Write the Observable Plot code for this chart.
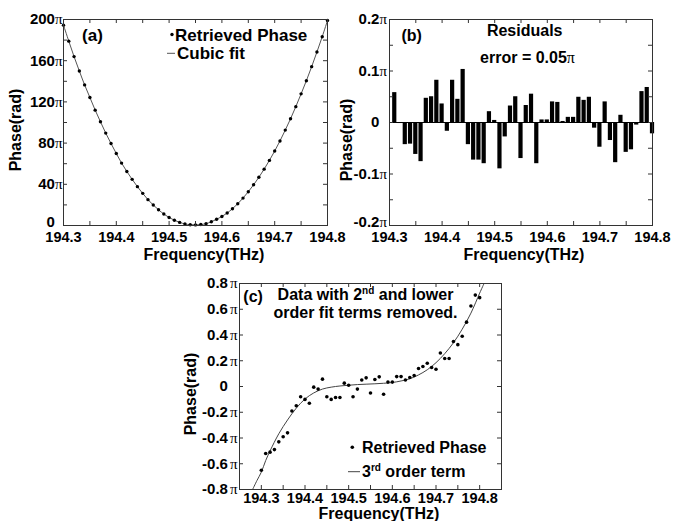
<!DOCTYPE html>
<html><head><meta charset="utf-8">
<script src="https://cdn.jsdelivr.net/npm/d3@7"></script>
<script src="https://cdn.jsdelivr.net/npm/@observablehq/plot@0.6"></script>
<style>
body{margin:0;background:#fff;}
#wrap{position:relative;width:685px;height:521px;overflow:hidden;background:#fff;}
#wrap svg{position:absolute;}
</style></head><body><div id="wrap"></div>
<script>
// ---------- data ----------
const freqA = [194.30,194.31,194.32,194.33,194.34,194.35,194.36,194.37,194.38,194.39,194.40,194.41,194.42,194.43,194.44,194.45,194.46,194.47,194.48,194.49,194.50,194.51,194.52,194.53,194.54,194.55,194.56,194.57,194.58,194.59,194.60,194.61,194.62,194.63,194.64,194.65,194.66,194.67,194.68,194.69,194.70,194.71,194.72,194.73,194.74,194.75,194.76,194.77,194.78,194.79,194.80];
const phaseA = [194.5,179,164,150,136.5,124.3,112,100.7,89.7,79.6,69.9,60.6,52.4,44.8,37.7,31.2,25.1,19.9,15.3,11.1,7.8,5.1,3.0,1.5,0.8,0.6,0.9,1.8,3.6,6.0,8.8,12.1,16.3,21.1,26.6,32.8,39.5,46.8,54.7,63.2,72.3,82.1,92.6,103.6,115.4,127.8,140.6,154.2,168.5,183.3,199];

const freqB = [194.31,194.32,194.33,194.34,194.35,194.36,194.37,194.38,194.39,194.40,194.41,194.42,194.43,194.44,194.45,194.46,194.47,194.48,194.49,194.50,194.51,194.52,194.53,194.54,194.55,194.56,194.57,194.58,194.59,194.60,194.61,194.62,194.63,194.64,194.65,194.66,194.67,194.68,194.69,194.70,194.71,194.72,194.73,194.74,194.75,194.76,194.77,194.78,194.79,194.80];
const residB = [0.058,-0.002,-0.043,-0.042,-0.062,-0.076,0.047,0.050,0.082,0.036,-0.017,0.082,0.045,0.103,-0.043,-0.073,-0.073,-0.080,0.021,0.004,-0.090,-0.028,0.032,0.050,-0.070,0.033,0.055,-0.080,0.005,0.005,0.040,0.039,0.002,0.010,0.010,0.049,0.043,0.049,-0.011,-0.048,0.040,-0.035,-0.078,0.014,-0.058,-0.053,-0.005,0.060,0.068,-0.022];

const freqC = freqA;
const phaseC = [-0.65,-0.52,-0.51,-0.49,-0.43,-0.39,-0.36,-0.19,-0.15,-0.08,-0.10,-0.13,-0.005,-0.02,0.057,-0.08,-0.10,-0.085,-0.085,0.026,0.01,-0.08,-0.02,0.05,0.067,-0.05,0.054,0.075,-0.06,0.034,0.034,0.077,0.077,0.05,0.07,0.085,0.14,0.155,0.18,0.147,0.134,0.26,0.217,0.217,0.35,0.325,0.39,0.50,0.625,0.71,0.69];

const fitFreqC = [194.28,194.29,194.30,194.31,194.32,194.34,194.36,194.38,194.40,194.42,194.44,194.46,194.48,194.50,194.52,194.54,194.56,194.58,194.60,194.62,194.64,194.66,194.68,194.70,194.72,194.74,194.76,194.78,194.80,194.81];
const fitPhaseC = [-0.80,-0.73,-0.665,-0.575,-0.50,-0.367,-0.26,-0.168,-0.097,-0.05,-0.02,-0.005,0.004,0.010,0.015,0.018,0.021,0.025,0.031,0.043,0.060,0.090,0.130,0.185,0.255,0.340,0.445,0.570,0.725,0.80];

const xTickLabels = [194.3,194.4,194.5,194.6,194.7,194.8];
const xMinorAB = [194.3,194.35,194.4,194.45,194.5,194.55,194.6,194.65,194.7,194.75,194.8];
const xMinorC = [194.25,194.3,194.35,194.4,194.45,194.5,194.55,194.6,194.65,194.7,194.75,194.8,194.85];
const yTicksA = [0,40,80,120,160,200];
const yMinorA = [0,20,40,60,80,100,120,140,160,180,200];
const yTicksB = [-0.2,-0.1,0,0.1,0.2];
const yMinorB = [-0.2,-0.15,-0.1,-0.05,0,0.05,0.1,0.15,0.2];
const yTicksC = [-0.8,-0.6,-0.4,-0.2,0,0.2,0.4,0.6,0.8];

const tableA = freqA.map((f,i)=>({f, p: phaseA[i]}));
const tableB = freqB.map((f,i)=>({f, r: residB[i]}));
const tableC = freqC.map((f,i)=>({f, p: phaseC[i]}));
const tableFitC = fitFreqC.map((f,i)=>({f, p: fitPhaseC[i]}));

const piFmt = d => d === 0 ? "0" : String(+d.toFixed(2)) + "π";

// ---------- panel builder ----------
function panel({width,height,m,xDomain,yDomain,xMinor,yMinor,yTicks,xPad,yPad,marks}) {
  const W = width - m.l - m.r, H = height - m.t - m.b;
  return Plot.plot({
    width, height,
    marginTop: m.t, marginRight: m.r, marginBottom: m.b, marginLeft: m.l,
    x: {domain: xDomain, axis: null},
    y: {domain: yDomain, axis: null},
    style: {fontFamily: "'Liberation Sans', Arial, sans-serif", fontWeight: "bold", background: "transparent", overflow: "visible", color: "#000"},
    marks: [
      ...marks,
      Plot.frame({stroke: "#333", strokeWidth: 1}),
      Plot.tickX(xMinor, {x: d => d, insetBottom: H - 4, stroke: "#333"}),
      Plot.tickX(xMinor, {x: d => d, insetTop: H - 4, stroke: "#333"}),
      Plot.tickY(yMinor, {y: d => d, insetRight: W - 4, stroke: "#333"}),
      Plot.tickY(yMinor, {y: d => d, insetLeft: W - 4, stroke: "#333"}),
      Plot.axisX({ticks: xTickLabels, tickSize: 0, tickPadding: xPad, tickFormat: d => d.toFixed(1), fontSize: 14.5, label: null}),
      Plot.axisY({ticks: yTicks, tickSize: 0, tickPadding: yPad, tickFormat: piFmt, fontSize: 15, label: null})
    ]
  });
}

// π drawn in a serif face; "0" keeps the room of an invisible π like the original
function piSpans(svg, gap, lowestLift) {
  const texts = d3.select(svg).selectAll('g[aria-label="y-axis tick label"] text');
  texts.each(function() {
    const t = this.textContent;
    if (this.children.length) return;
    const hidden = !t.endsWith("π");
    this.textContent = hidden ? t : t.slice(0, -1);
    d3.select(this).append("tspan")
      .attr("font-family", "'Liberation Serif', 'DejaVu Serif', serif")
      .attr("font-weight", "normal")
      .attr("fill-opacity", hidden ? 0 : 1)
      .attr("dx", gap).text("π");
  });
  if (lowestLift) {
    // the lowest y label sits a little above the axis corner, as in the original
    let low = null, lowY = -Infinity;
    for (const n of texts.nodes()) {
      const top = n.getBoundingClientRect().top;
      if (top > lowY) { lowY = top; low = n; }
    }
    if (low) {
      const tr = low.getAttribute("transform");
      low.setAttribute("transform", (tr ? tr + " " : "") + `translate(0,${-lowestLift})`);
    }
  }
}
function txt(svg, x, y, s, size, anchor="middle") {
  return d3.select(svg).append("text").attr("x", x).attr("y", y)
    .attr("text-anchor", anchor).attr("font-size", size).attr("font-weight", "bold")
    .attr("font-family", "'Liberation Sans', Arial, sans-serif").attr("fill", "#000").text(s);
}
function ytitle(svg, x, y, s, size) {
  d3.select(svg).append("text").attr("transform", `translate(${x},${y}) rotate(-90)`)
    .attr("text-anchor", "middle").attr("font-size", size).attr("font-weight", "bold")
    .attr("font-family", "'Liberation Sans', Arial, sans-serif").attr("fill", "#000").text(s);
}
function place(svg, left, top) {
  svg.style.left = left + "px"; svg.style.top = top + "px";
  document.getElementById("wrap").appendChild(svg);
}

// ---------- panel (a) ----------
const svgA = panel({
  width: 340, height: 265, m: {t: 19, r: 13, b: 40, l: 63},
  xDomain: [194.3, 194.8], yDomain: [0, 200],
  xMinor: xMinorAB, yMinor: yMinorA, yTicks: yTicksA, xPad: 6, yPad: 1,
  marks: [
    Plot.line(tableA, {x: "f", y: "p", stroke: "#555", strokeWidth: 1, curve: "catmull-rom"}),
    Plot.dot(tableA, {x: "f", y: "p", r: 1.7, fill: "#000", stroke: "none"})
  ]
});
place(svgA, 0, 0);
piSpans(svgA, 0, 3);
txt(svgA, 92.5, 41, "(a)", 17);
d3.select(svgA).append("circle").attr("cx", 172).attr("cy", 34.5).attr("r", 1.7).attr("fill", "#000");
txt(svgA, 175, 40.5, "Retrieved Phase", 17, "start");
d3.select(svgA).append("line").attr("x1", 167).attr("x2", 175).attr("y1", 53.3).attr("y2", 53.3).attr("stroke", "#555");
txt(svgA, 177, 58.5, "Cubic fit", 17, "start");
txt(svgA, 204, 260, "Frequency(THz)", 16);
ytitle(svgA, 20.5, 130, "Phase(rad)", 16);

// ---------- panel (b) ----------
const svgB = panel({
  width: 345, height: 265, m: {t: 19, r: 33, b: 40, l: 49},
  xDomain: [194.3, 194.8], yDomain: [-0.2, 0.2],
  xMinor: xMinorAB, yMinor: yMinorB, yTicks: yTicksB, xPad: 6, yPad: 2.5,
  marks: [
    Plot.ruleY([0], {stroke: "#000"}),
    Plot.rect(tableB, {x1: d => d.f - 0.004, x2: d => d.f + 0.004, y1: () => 0, y2: "r", fill: "#000"})
  ]
});
place(svgB, 340, 0);
piSpans(svgB, 0, 3);
txt(svgB, 71.7, 41, "(b)", 16);
txt(svgB, 184.7, 36, "Residuals", 16);
const eb = txt(svgB, 187.5, 63.3, "error = 0.05", 16);
eb.append("tspan").attr("font-family", "'Liberation Serif', serif").attr("font-weight", "normal").text("π");
txt(svgB, 184, 260, "Frequency(THz)", 16);
ytitle(svgB, 11.5, 140, "Phase(rad)", 16);

// ---------- panel (c) ----------
const svgC = panel({
  width: 340, height: 256, m: {t: 18, r: 19, b: 32, l: 59},
  xDomain: [194.25, 194.85], yDomain: [-0.8, 0.8],
  xMinor: xMinorC, yMinor: yTicksC, yTicks: yTicksC, xPad: 3, yPad: 2,
  marks: [
    Plot.line(tableFitC, {x: "f", y: "p", stroke: "#444", strokeWidth: 1, curve: "catmull-rom"}),
    Plot.dot(tableC, {x: "f", y: "p", r: 1.8, fill: "#000", stroke: "none"})
  ]
});
place(svgC, 180, 265);
piSpans(svgC, 2, 0);
txt(svgC, 63.3, 36.7, "(c)", 16, "start");
const t1 = txt(svgC, 185.5, 35, "Data with 2", 16);
t1.append("tspan").attr("font-size", 10).attr("dy", -6).text("nd");
t1.append("tspan").attr("dy", 6).text(" and lower");
txt(svgC, 185.5, 53.3, "order fit terms removed.", 16);
d3.select(svgC).append("circle").attr("cx", 172.3).attr("cy", 182.3).attr("r", 1.8).attr("fill", "#000");
txt(svgC, 182, 188.3, "Retrieved Phase", 16, "start");
d3.select(svgC).append("line").attr("x1", 168).attr("x2", 180).attr("y1", 206.7).attr("y2", 206.7).attr("stroke", "#444");
const t2 = txt(svgC, 182, 211.7, "3", 16, "start");
t2.append("tspan").attr("font-size", 10).attr("dy", -6).text("rd");
t2.append("tspan").attr("dy", 6).text(" order term");
txt(svgC, 199, 254, "Frequency(THz)", 16);
ytitle(svgC, 15.5, 129, "Phase(rad)", 16);
</script>
</body></html>
